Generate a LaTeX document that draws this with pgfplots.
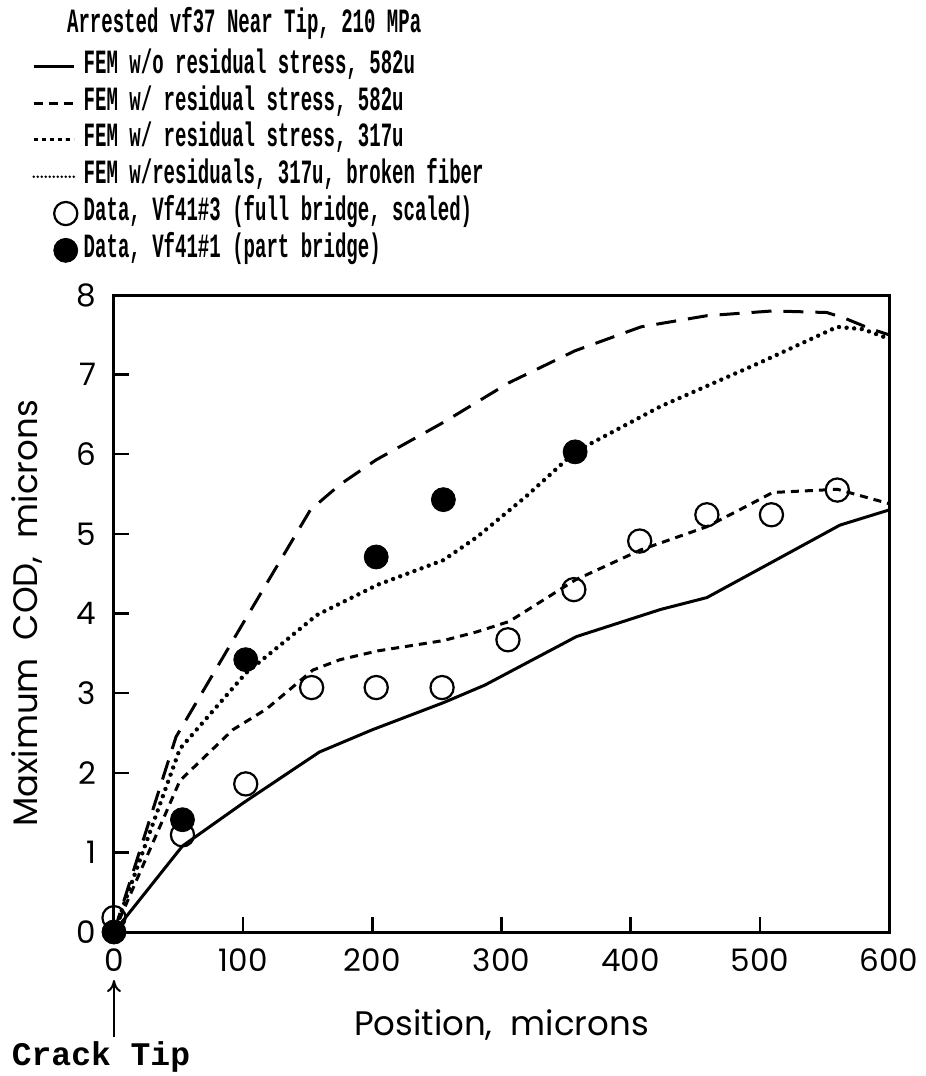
\documentclass[border=0pt]{standalone}
\usepackage{fontspec}
\usepackage{pgfplots}
\pgfplotsset{compat=1.18}
\usetikzlibrary{arrows.meta}
\setmainfont{Poppins}
\newfontfamily\legfont[FakeStretch=0.56]{Liberation Mono Bold}
\newfontfamily\tipfont{Liberation Mono Bold}

\pgfplotsset{
  longdash/.style={black, line width=1.5pt, dash pattern=on 10pt off 6pt},
  meddash/.style={black, line width=1.5pt, dash pattern=on 4pt off 3pt},
  dotline/.style={black, line width=2.2pt, line cap=round, dash pattern=on 0pt off 3.8pt},
  solidline/.style={black, line width=1.5pt, solid},
  opendata/.style={only marks, mark=o, mark size=5.8pt, mark options={black, line width=1.1pt, solid}},
  filldata/.style={only marks, mark=*, mark size=6pt, mark options={black, fill=black, solid}},
}

\begin{document}
\begin{tikzpicture}
\useasboundingbox (-57pt,-72pt) rectangle (406pt,466pt);
\begin{axis}[
  at={(0,0)}, anchor=south west,
  scale only axis, width=387.5pt, height=318.5pt,
  xmin=0, xmax=600, ymin=0, ymax=8,
  xtick={0,100,...,600}, ytick={0,1,...,8},
  tick align=inside, xtick pos=bottom, ytick pos=left,
  major tick length=7.5pt,
  axis line style={line width=1.5pt},
  every tick/.style={black, line width=1.2pt},
  clip=false,
  /pgf/number format/assume math mode=true,
  ticklabel style={font=\fontsize{15.5}{15.5}\selectfont},
  xticklabel style={yshift=-5pt},
  yticklabel style={xshift=-5.5pt},
  xlabel={Position,\ \ microns},
  ylabel={Maximum\ \ COD,\ \ microns},
  label style={font=\fontsize{17}{17}\selectfont},
  xlabel style={at={(axis description cs:0.5,-0.146)}, anchor=center},
  ylabel style={at={(axis description cs:-0.112,0.5)}, anchor=center},
  every axis title shift=0pt,
  title={Arrested vf37 Near Tip, 210 MPa},
  title style={at={(axis description cs:-0.061,1.427)}, anchor=west,
    font=\legfont\fontsize{17}{17}\selectfont, inner sep=0pt},
  legend style={at={(axis description cs:-0.106,1.38)}, anchor=north west,
    draw=none, fill=none, inner sep=0pt, row sep=5.4pt, column sep=3pt,
    font=\legfont\fontsize{17}{17}\selectfont,
    nodes={inner sep=0pt, text height=10pt, text depth=3pt}},
  legend cell align=left,
  legend image code/.code={\draw[mark repeat=2,mark phase=2,#1]
    plot coordinates {(0pt,0pt) (16pt,0pt) (20pt,0pt)};},
]
\addlegendimage{solidline}
\addlegendentry{FEM w/o residual stress, 582u}
\addlegendimage{longdash, dash pattern=on 4.5pt off 3pt}
\addlegendentry{FEM w/ residual stress, 582u}
\addlegendimage{meddash, dash pattern=on 2pt off 2pt}
\addlegendentry{FEM w/ residual stress, 317u}
\addlegendimage{dotline, line width=1.3pt, dash pattern=on 0pt off 2pt}
\addlegendentry{FEM w/residuals, 317u, broken fiber}
\addlegendimage{opendata}
\addlegendentry{Data, Vf41\#3 (full bridge, scaled)}
\addlegendimage{filldata}
\addlegendentry{Data, Vf41\#1 (part bridge)}

% FEM w/o residual stress, 582u
\addplot[solidline, forget plot] coordinates {
  (0,0) (53,1.08) (100,1.62) (159,2.26) (200,2.54) (255,2.88) (287,3.1)
  (358,3.71) (423,4.05) (459,4.2) (510,4.65) (562,5.11) (600,5.3)};
% FEM w/ residual stress, 582u
\addplot[longdash, forget plot] coordinates {
  (0,0) (48,2.45) (100,3.88) (152,5.3) (175,5.62) (203,5.93) (255,6.4)
  (306,6.9) (357,7.3) (408,7.6) (459,7.74) (510,7.8) (552,7.78) (567,7.7)
  (585,7.58) (600,7.5)};
% FEM w/ residual stress, 317u
\addplot[meddash, forget plot] coordinates {
  (0,0) (51,1.9) (92,2.54) (118,2.8) (154,3.29) (175,3.42) (204,3.53)
  (255,3.66) (281,3.77) (306,3.9) (357,4.42) (408,4.8) (459,5.09)
  (490,5.35) (510,5.52) (560,5.56) (600,5.38)};
% FEM w/residuals, 317u, broken fiber
\addplot[dotline, forget plot] coordinates {
  (0,0) (51,2.3) (102,3.25) (130,3.62) (157,3.98) (204,4.36) (255,4.67)
  (281,4.96) (319,5.47) (357,6.03) (423,6.6) (500,7.15) (560,7.6)
  (580,7.57) (600,7.45)};
% Data, Vf41#3
\addplot[opendata, forget plot] coordinates {
  (0,0.18) (53,1.22) (102,1.86) (153,3.07) (203,3.07) (254,3.07)
  (305,3.67) (356,4.3) (407,4.91) (459,5.24) (509,5.24) (560,5.55)};
% Data, Vf41#1
\addplot[filldata, forget plot] coordinates {
  (0,0) (53,1.41) (102,3.42) (203,4.71) (255,5.43) (357,6.03)};

\draw[-{To[length=6pt,width=7pt]}, line width=1pt]
  ([yshift=-52.5pt]axis cs:0,0) -- ([yshift=-24pt]axis cs:0,0);
\node[font=\tipfont\fontsize{16.5}{16.5}\selectfont, inner sep=0pt]
  at ([xshift=-6.5pt, yshift=-62.5pt]axis cs:0,0) {Crack Tip};
\end{axis}
\end{tikzpicture}
\end{document}
